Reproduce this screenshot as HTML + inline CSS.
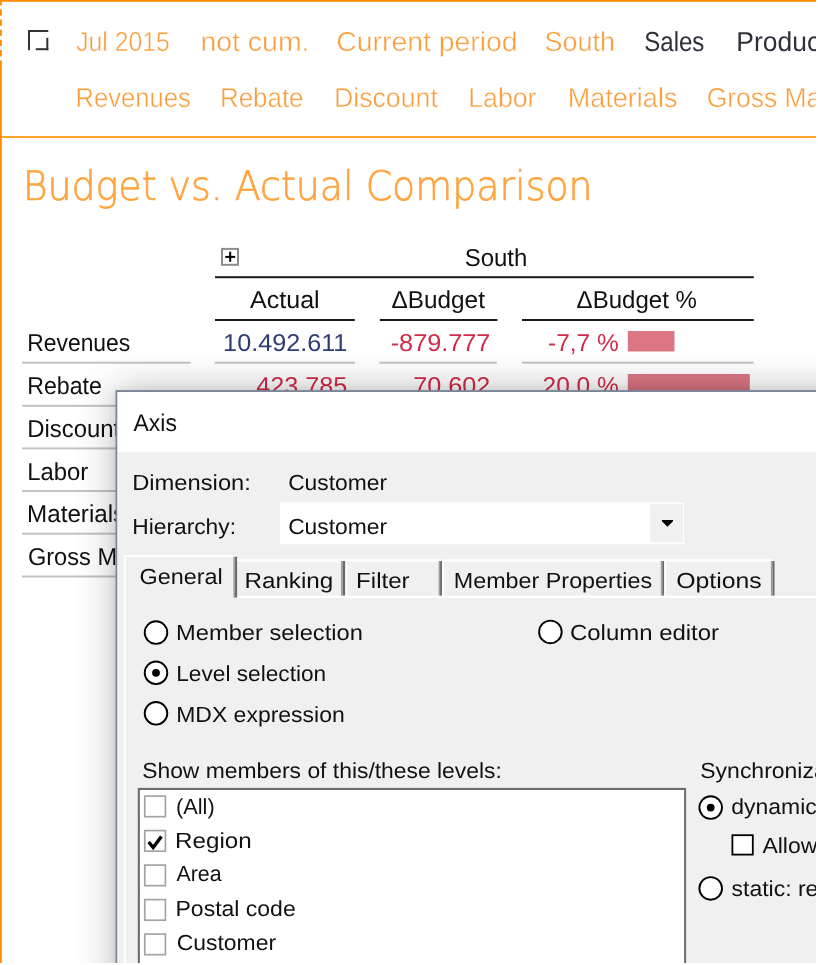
<!DOCTYPE html>
<html><head><meta charset="utf-8"><title>Budget vs. Actual Comparison</title>
<style>
html,body{margin:0;padding:0;background:#fff;width:818px;height:965px;overflow:hidden}
svg{display:block}
text{font-family:"Liberation Sans",sans-serif;white-space:pre}
</style></head><body>
<svg width="818" height="965" viewBox="0 0 818 965" text-rendering="geometricPrecision">
<defs>
<clipPath id="cp"><rect x="0" y="0" width="816" height="963"/></clipPath>
<filter id="sh" x="-20%" y="-20%" width="140%" height="140%"><feGaussianBlur stdDeviation="20"/></filter>
<filter id="sh2" x="-20%" y="-20%" width="140%" height="140%"><feGaussianBlur stdDeviation="5"/></filter>
</defs>
<rect width="818" height="965" fill="#fff"/>
<g clip-path="url(#cp)">
<!-- frame -->
<rect x="0" y="0" width="816.5" height="1.8" fill="#ff8c00"/>
<g fill="#ff8c00">
<rect x="0" y="0" width="1.8" height="5.4"/>
<rect x="0" y="9.3" width="1.8" height="6.4"/>
<rect x="0" y="19.5" width="1.8" height="6.3"/>
<rect x="0" y="29.6" width="1.8" height="6.2"/>
<rect x="0" y="39.8" width="1.8" height="6.2"/>
<rect x="0" y="50" width="1.8" height="6.4"/>
<rect x="0" y="60.4" width="1.8" height="904"/>
</g>
<rect x="1.8" y="136" width="815" height="2" fill="#ffa328"/>
<!-- icon -->
<g fill="#333">
<rect x="28" y="30" width="20.3" height="2"/>
<rect x="28" y="30" width="2" height="20.2"/>
<rect x="46.3" y="37.8" width="2" height="12.4"/>
<rect x="35.8" y="48.2" width="12.5" height="2"/>
</g>
<!-- plus box -->
<rect x="222" y="248.9" width="16" height="15.9" fill="#fff" stroke="#8c8c8c" stroke-width="2"/>
<rect x="225.3" y="255.9" width="9.9" height="2" fill="#000"/>
<rect x="229.2" y="251.7" width="2" height="10.1" fill="#000"/>
<!-- table lines -->
<rect x="215" y="276.2" width="538.8" height="2" fill="#1a1a1a"/>
<g fill="#1a1a1a">
<rect x="215" y="319" width="139.8" height="2"/>
<rect x="379.8" y="319" width="117.6" height="2"/>
<rect x="522" y="319" width="231.8" height="2"/>
</g>
<g fill="#c2c2c2">
<rect x="22" y="361.7" width="168.4" height="2"/>
<rect x="214.6" y="361.7" width="140.2" height="2"/>
<rect x="379.4" y="361.7" width="117.4" height="2"/>
<rect x="522" y="361.7" width="231.7" height="2"/>
<rect x="22" y="404.8" width="168.4" height="2"/>
<rect x="22" y="447.4" width="168.4" height="2"/>
<rect x="22" y="490" width="168.4" height="2"/>
<rect x="22" y="532.7" width="168.4" height="2"/>
<rect x="22" y="575.5" width="168.4" height="2"/>
</g>
<!-- bars -->
<rect x="627.8" y="331" width="46.7" height="20.5" fill="#dc7684"/>
<rect x="627.8" y="374" width="122" height="20.5" fill="#dc7684"/>
<text stroke="#fff" stroke-width="0.45" transform="translate(76.21 50.5) scale(0.9018 1)" font-size="27.45" fill="#fb9d3a">Jul 2015</text>
<text stroke="#fff" stroke-width="0.45" transform="translate(200.42 50.5) scale(1.0369 1)" font-size="27.45" fill="#fb9d3a">not cum.</text>
<text stroke="#fff" stroke-width="0.45" transform="translate(336.27 50.5) scale(1.0334 1)" font-size="27.45" fill="#fb9d3a">Current period</text>
<text stroke="#fff" stroke-width="0.45" transform="translate(544.56 50.5) scale(0.9808 1)" font-size="27.45" fill="#fb9d3a">South</text>
<text transform="translate(644.25 50.5) scale(0.8753 1)" font-size="27.45" fill="#30303c">Sales</text>
<text transform="translate(736.33 50.5) scale(0.9636 1)" font-size="27.45" fill="#30303c">Product</text>
<text stroke="#fff" stroke-width="0.45" transform="translate(75.6 107) scale(0.9320 1)" font-size="27.45" fill="#fb9d3a">Revenues</text>
<text stroke="#fff" stroke-width="0.45" transform="translate(219.98 107) scale(0.9442 1)" font-size="27.45" fill="#fb9d3a">Rebate</text>
<text stroke="#fff" stroke-width="0.45" transform="translate(333.91 107) scale(0.9738 1)" font-size="27.45" fill="#fb9d3a">Discount</text>
<text stroke="#fff" stroke-width="0.45" transform="translate(468.21 107) scale(0.9731 1)" font-size="27.45" fill="#fb9d3a">Labor</text>
<text stroke="#fff" stroke-width="0.45" transform="translate(567.79 107) scale(0.9848 1)" font-size="27.45" fill="#fb9d3a">Materials</text>
<text stroke="#fff" stroke-width="0.45" transform="translate(706.66 107) scale(0.9636 1)" font-size="27.45" fill="#fb9d3a">Gross Margin</text>
<text stroke="#ffa43f" stroke-width="0.7" transform="translate(22.65 200) scale(0.9342 1)" font-size="40.58" fill="#ffa43f" style='font-family:"DejaVu Sans", sans-serif' font-weight="200">Budget vs. Actual Comparison</text>
<text transform="translate(464.65 266) scale(0.9808 1)" font-size="24.46" fill="#111111">South</text>
<text transform="translate(250 308.3) scale(1.0245 1)" font-size="24.46" fill="#111111">Actual</text>
<text transform="translate(391.62 308.3) scale(0.9939 1)" font-size="24.46" fill="#111111">ΔBudget</text>
<text transform="translate(576.62 308.3) scale(0.9826 1)" font-size="24.46" fill="#111111">ΔBudget %</text>
<text transform="translate(27.21 351.2) scale(0.9360 1)" font-size="24.46" fill="#111111">Revenues</text>
<text transform="translate(27.19 394) scale(0.9463 1)" font-size="24.46" fill="#111111">Rebate</text>
<text transform="translate(27.13 436.8) scale(0.9780 1)" font-size="24.46" fill="#111111">Discount</text>
<text transform="translate(27.13 479.6) scale(0.9770 1)" font-size="24.46" fill="#111111">Labor</text>
<text transform="translate(27.11 522.4) scale(0.9890 1)" font-size="24.46" fill="#111111">Materials</text>
<text transform="translate(27.89 565.2) scale(0.9650 1)" font-size="24.46" fill="#111111">Gross Margin</text>
<text transform="translate(223.12 351.2) scale(1.0305 1)" font-size="24.46" fill="#2e3e74">10.492.611</text>
<text transform="translate(390.71 351.2) scale(1.0325 1)" font-size="24.46" fill="#d22a48">-879.777</text>
<text transform="translate(548.04 351.2) scale(0.9999 1)" font-size="24.46" fill="#d22a48">-7,7 %</text>
<text transform="translate(256.26 394) scale(1.0310 1)" font-size="24.46" fill="#d22a48">423.785</text>
<text transform="translate(413.28 394) scale(1.0310 1)" font-size="24.46" fill="#d22a48">70.602</text>
<text transform="translate(542.57 394) scale(1.0000 1)" font-size="24.46" fill="#d22a48">20,0 %</text>
<!-- dialog -->
<rect x="115.4" y="390.1" width="800" height="700" fill="#000" opacity="0.27" filter="url(#sh)"/>
<rect x="115.4" y="390.1" width="800" height="700" fill="#000" opacity="0.08" filter="url(#sh2)"/>
<rect x="115.5" y="390.1" width="800" height="700" fill="#7b8798"/>
<rect x="117.3" y="392.0" width="800" height="60.9" fill="#fff"/>
<rect x="117.2" y="452.9" width="800" height="600" fill="#f0f0f0"/>
<!-- combo -->
<rect x="280" y="502.5" width="403.9" height="41.8" fill="#fff"/>
<rect x="650.2" y="504.2" width="32.7" height="38.2" fill="#f0f0f0"/>
<polygon points="661.9,520 673,520 673,521.2 667.45,526.8 661.9,521.2" fill="#000"/>
<!-- tabs -->
<g>
<rect x="123.6" y="555" width="113.6" height="44" fill="#f0f0f0"/>
<rect x="123.6" y="555.6" width="2.2" height="420" fill="#fff"/>
<rect x="125" y="555" width="108.5" height="2" fill="#fff"/>
<rect x="233.4" y="556.8" width="1.67" height="40.8" fill="#a0a0a0"/><rect x="235.07" y="556.8" width="2.03" height="40.8" fill="#696969"/>
<rect x="237.2" y="559.2" width="108" height="2.3" fill="#fff"/>
<rect x="341" y="561" width="1.89" height="34.7" fill="#a0a0a0"/><rect x="342.89" y="561" width="2.31" height="34.7" fill="#696969"/>
<rect x="345.4" y="559.2" width="2" height="37" fill="#fff"/>
<rect x="347.4" y="559.2" width="94" height="2.3" fill="#fff"/>
<rect x="438.6" y="561" width="1.53" height="34.7" fill="#a0a0a0"/><rect x="440.13" y="561" width="1.87" height="34.7" fill="#696969"/>
<rect x="442.2" y="559.2" width="2" height="37" fill="#fff"/>
<rect x="444.2" y="559.2" width="220" height="2.3" fill="#fff"/>
<rect x="660.8" y="561" width="1.53" height="34.7" fill="#a0a0a0"/><rect x="662.33" y="561" width="1.87" height="34.7" fill="#696969"/>
<rect x="664.3" y="559.2" width="2" height="37" fill="#fff"/>
<rect x="666.3" y="559.2" width="105" height="2.3" fill="#fff"/>
<rect x="770.9" y="561" width="1.62" height="34.7" fill="#a0a0a0"/><rect x="772.52" y="561" width="1.98" height="34.7" fill="#696969"/>
<rect x="237.2" y="595.8" width="600" height="2.2" fill="#fff"/>
</g>
<!-- radios -->
<g fill="#fff" stroke="#000" stroke-width="1.9">
<circle cx="156" cy="632.6" r="11.3"/>
<circle cx="156" cy="672.8" r="11.3"/>
<circle cx="156" cy="713.3" r="11.3"/>
<circle cx="550.4" cy="631.9" r="11.3"/>
<circle cx="710.7" cy="807.6" r="11.3"/>
<circle cx="710.7" cy="888.4" r="11.3"/>
</g>
<circle cx="156" cy="672.8" r="3.9" fill="#000"/>
<circle cx="710.7" cy="807.6" r="3.9" fill="#000"/>
<!-- listbox -->
<rect x="137.8" y="787.9" width="548.3" height="200" fill="#6d6d6d"/>
<rect x="139.9" y="790" width="544.2" height="200" fill="#fff"/>
<g fill="#fff" stroke="#a4a4a4" stroke-width="1.7">
<rect x="144.8" y="796.10" width="20.6" height="20.6"/>
<rect x="144.8" y="830.60" width="20.6" height="20.6"/>
<rect x="144.8" y="865.10" width="20.6" height="20.6"/>
<rect x="144.8" y="899.60" width="20.6" height="20.6"/>
<rect x="144.8" y="934.10" width="20.6" height="20.6"/>
</g>
<path d="M148.6 842 L153.2 847.6 L161.4 836.6" fill="none" stroke="#000" stroke-width="3.4" stroke-linejoin="miter"/>
<rect x="732.4" y="835.2" width="20.4" height="19.4" fill="#fff" stroke="#000" stroke-width="1.8"/>
<text transform="translate(133.5 430.7) scale(0.9506 1)" font-size="24.18" fill="#111111">Axis</text>
<text transform="translate(132.14 490.3) scale(1.0844 1)" font-size="21.9" fill="#111111">Dimension:</text>
<text transform="translate(288.13 490.3) scale(1.0426 1)" font-size="21.9" fill="#111111">Customer</text>
<text transform="translate(132.22 534.3) scale(1.0405 1)" font-size="21.9" fill="#111111">Hierarchy:</text>
<text transform="translate(288.13 534.3) scale(1.0426 1)" font-size="21.9" fill="#111111">Customer</text>
<text transform="translate(139.6 583.5) scale(1.0683 1)" font-size="21.9" fill="#111111">General</text>
<text transform="translate(244.41 587.5) scale(1.1070 1)" font-size="21.9" fill="#111111">Ranking</text>
<text transform="translate(356.12 587.5) scale(1.0992 1)" font-size="21.9" fill="#111111">Filter</text>
<text transform="translate(453.78 587.5) scale(1.0656 1)" font-size="21.9" fill="#111111">Member Properties</text>
<text transform="translate(676.24 587.5) scale(1.1332 1)" font-size="21.9" fill="#111111">Options</text>
<text transform="translate(176.05 640.4) scale(1.0811 1)" font-size="21.9" fill="#111111">Member selection</text>
<text transform="translate(176.23 681) scale(1.0356 1)" font-size="21.9" fill="#111111">Level selection</text>
<text transform="translate(176.2 721.7) scale(1.0492 1)" font-size="21.9" fill="#111111">MDX expression</text>
<text transform="translate(569.98 640.3) scale(1.0939 1)" font-size="21.9" fill="#111111">Column editor</text>
<text transform="translate(142.18 778.2) scale(1.0446 1)" font-size="21.9" fill="#111111">Show members of this/these levels:</text>
<text transform="translate(175.98 814) scale(0.9954 1)" font-size="21.9" fill="#111111">(All)</text>
<text transform="translate(175.11 847.6) scale(1.1043 1)" font-size="21.9" fill="#111111">Region</text>
<text transform="translate(176.5 881.3) scale(0.9741 1)" font-size="21.9" fill="#111111">Area</text>
<text transform="translate(175.5 916.3) scale(1.0505 1)" font-size="21.9" fill="#111111">Postal code</text>
<text transform="translate(176.73 950.4) scale(1.0469 1)" font-size="21.9" fill="#111111">Customer</text>
<text transform="translate(700.28 777.7) scale(1.0497 1)" font-size="21.9" fill="#111111">Synchronization</text>
<text transform="translate(731.18 814.4) scale(1.0497 1)" font-size="21.9" fill="#111111">dynamic</text>
<text transform="translate(762.4 853) scale(1.0497 1)" font-size="21.9" fill="#111111">Allow</text>
<text transform="translate(731.54 895.5) scale(1.0497 1)" font-size="21.9" fill="#111111">static: reference</text>
</g>
</svg>
</body></html>
